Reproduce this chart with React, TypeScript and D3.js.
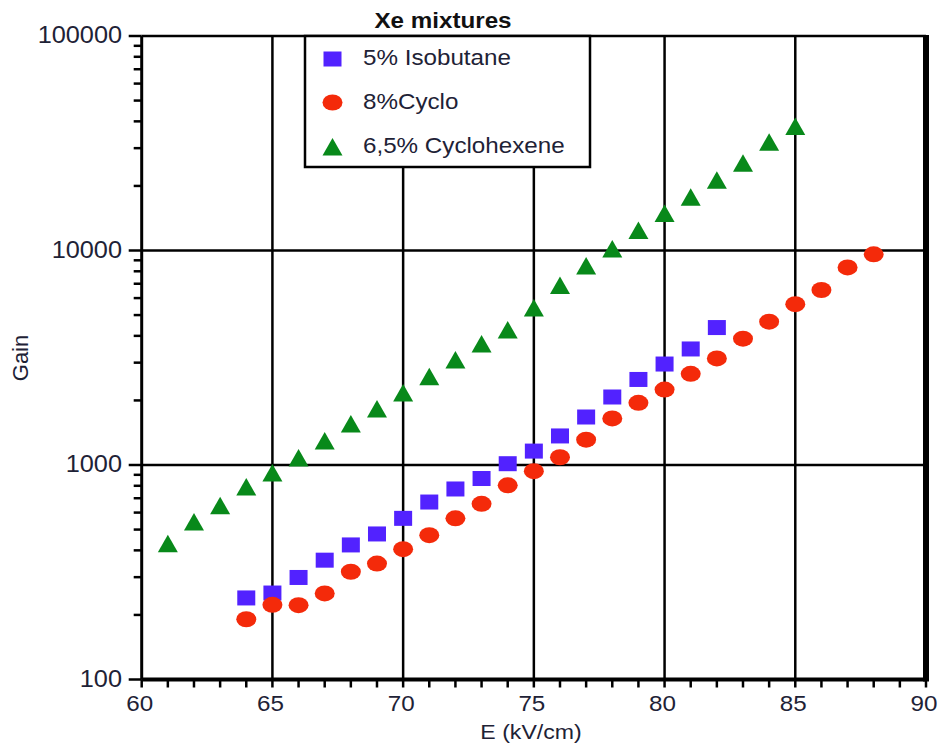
import React from 'react';
import * as d3 from 'd3';

// values
const isoE = [64, 65, 66, 67, 68, 69, 70, 71, 72, 73, 74, 75, 76, 77, 78, 79, 80, 81, 82];
const isoGain = [240, 253, 299, 360, 424, 477, 564, 672, 773, 865, 1014, 1161, 1366, 1674, 2075, 2505, 2956, 3475, 4373];

const cycloE = [64, 65, 66, 67, 68, 69, 70, 71, 72, 73, 74, 75, 76, 77, 78, 79, 80, 81, 82, 83, 84, 85, 86, 87, 88];
const cycloGain = [191, 223, 222, 252, 318, 347, 405, 471, 564, 659, 804, 936, 1087, 1312, 1648, 1950, 2248, 2662, 3141, 3881, 4656, 5620, 6545, 8340, 9600];

const hexE = [61, 62, 63, 64, 65, 66, 67, 68, 69, 70, 71, 72, 73, 74, 75, 76, 77, 78, 79, 80, 81, 82, 83, 84, 85];
const hexGain = [429, 542, 646, 789, 918, 1079, 1295, 1553, 1824, 2166, 2581, 3090, 3666, 4260, 5395, 6870, 8472, 10170, 12400, 14860, 17700, 21240, 25520, 31960, 37880];

const xTicks = [60, 65, 70, 75, 80, 85, 90];
const xGrid = [65, 70, 75, 80, 85];
const yTicks = [100, 1000, 10000, 100000];
const yGrid = [1000, 10000];
const legendLabels = ['5% Isobutane', '8%Cyclo', '6,5% Cyclohexene'];

const width = 941;
const height = 746;
const plot = { left: 141.7, right: 926, top: 36, bottom: 679.5 };

const blue = '#5222ff';
const red = '#f42a0a';
const green = '#08891a';
const textColor = '#1e2236';
const font = '"Liberation Sans", Arial, sans-serif';
const stretch = 'scale(1.1,1)';

const xScale = d3.scaleLinear().domain([60, 90]).range([plot.left, plot.right]);
const yScale = d3.scaleLog().domain([100, 100000]).range([plot.bottom, plot.top]);

const minorY = yScale.ticks().filter(v => yTicks.indexOf(v) < 0);
const minorX = d3.range(60, 91).filter(v => v % 5 !== 0);

const Square = ({ cx, cy }) => <rect x={cx - 9} y={cy - 7.5} width={18} height={15} fill={blue} />;
const Dot = ({ cx, cy }) => <ellipse cx={cx} cy={cy} rx={10} ry={8} fill={red} />;
const Tri = ({ cx, cy }) => (
  <path d={`M${cx},${cy - 9}L${cx + 10},${cy + 8.5}L${cx - 10},${cy + 8.5}Z`} fill={green} />
);

const App = () => {
  const legendX = 305;
  const legendRows = [59, 102.5, 147];

  return (
    <svg width={width} height={height} style={{ position: 'absolute', left: 0, top: 0, background: '#fff' }}>
      <rect width={width} height={height} fill="#fff" />

      {/* grid */}
      {xGrid.map(v => (
        <line key={'gx' + v} x1={xScale(v)} x2={xScale(v)} y1={plot.top} y2={plot.bottom} stroke="#000" strokeWidth={2.5} />
      ))}
      {yGrid.map(v => (
        <line key={'gy' + v} x1={plot.left} x2={plot.right} y1={yScale(v)} y2={yScale(v)} stroke="#000" strokeWidth={2.5} />
      ))}

      {/* frame */}
      <line x1={plot.left} x2={plot.right} y1={plot.top} y2={plot.top} stroke="#000" strokeWidth={2.5} />
      <line x1={plot.left} x2={plot.left} y1={plot.top} y2={plot.bottom} stroke="#000" strokeWidth={3} />
      <line x1={plot.right} x2={plot.right} y1={plot.top - 1} y2={plot.bottom + 2} stroke="#000" strokeWidth={6} />
      <line x1={plot.left} x2={plot.right} y1={plot.bottom} y2={plot.bottom} stroke="#000" strokeWidth={4} />

      {/* y ticks */}
      {yTicks.map(v => (
        <g key={'yt' + v}>
          <line x1={plot.left - 13} x2={plot.left} y1={yScale(v)} y2={yScale(v)} stroke="#000" strokeWidth={2.5} />
          <text transform={`translate(122,${yScale(v) + 7}) ${stretch}`} textAnchor="end" fontFamily={font} fontSize={23} fill={textColor}>
            {v}
          </text>
        </g>
      ))}
      {minorY.map(v => (
        <line key={'ym' + v} x1={plot.left - 8} x2={plot.left} y1={yScale(v)} y2={yScale(v)} stroke="#000" strokeWidth={2.5} />
      ))}

      {/* x ticks */}
      {xTicks.map(v => (
        <g key={'xt' + v}>
          <line x1={xScale(v)} x2={xScale(v)} y1={plot.bottom} y2={plot.bottom + 8} stroke="#000" strokeWidth={2.5} />
          <text transform={`translate(${xScale(v) - 2},711) ${stretch}`} textAnchor="middle" fontFamily={font} fontSize={22} fill={textColor}>
            {v}
          </text>
        </g>
      ))}
      {minorX.map(v => (
        <line key={'xm' + v} x1={xScale(v)} x2={xScale(v)} y1={plot.bottom} y2={plot.bottom + 8} stroke="#000" strokeWidth={2.5} />
      ))}

      {/* axis titles */}
      <text transform={`translate(531,739) ${stretch}`} textAnchor="middle" fontFamily={font} fontSize={21} fill={textColor}>
        E (kV/cm)
      </text>
      <text transform="translate(28,358) rotate(-90)" textAnchor="middle" fontFamily={font} fontSize={22} fill={textColor}>
        Gain
      </text>
      <text transform={`translate(443,28) ${stretch}`} textAnchor="middle" fontFamily={font} fontSize={22} fontWeight="bold" fill="#111">
        Xe mixtures
      </text>

      {/* legend */}
      <rect x={legendX} y={plot.top} width={285} height={131} fill="#fff" stroke="#000" strokeWidth={2.5} />
      <Square cx={332.5} cy={legendRows[0]} />
      <Dot cx={332.5} cy={legendRows[1]} />
      <Tri cx={332.5} cy={legendRows[2]} />
      {legendLabels.map((l, i) => (
        <text key={l} transform={`translate(363,${legendRows[i] + 6}) ${stretch}`} fontFamily={font} fontSize={22} fill={textColor}>
          {l}
        </text>
      ))}

      {/* data */}
      {isoE.map((e, i) => <Square key={'s' + e} cx={xScale(e)} cy={yScale(isoGain[i])} />)}
      {cycloE.map((e, i) => <Dot key={'c' + e} cx={xScale(e)} cy={yScale(cycloGain[i])} />)}
      {hexE.map((e, i) => <Tri key={'t' + e} cx={xScale(e)} cy={yScale(hexGain[i])} />)}
    </svg>
  );
};

export default App;
